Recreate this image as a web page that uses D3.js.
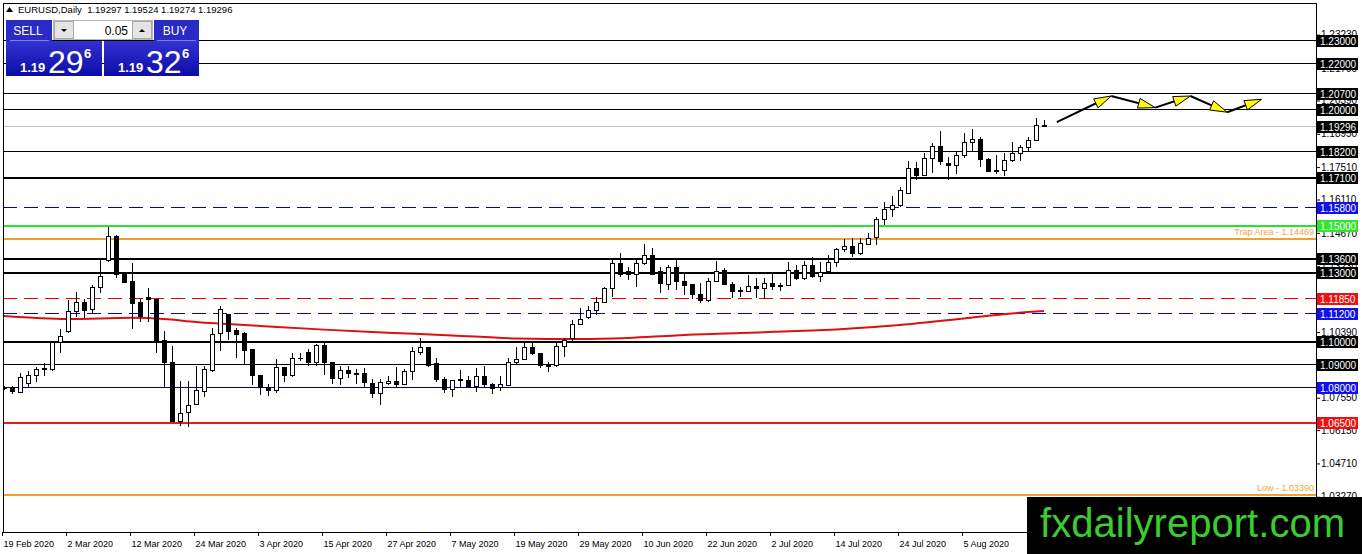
<!DOCTYPE html>
<html>
<head>
<meta charset="utf-8">
<script src="https://cdn.jsdelivr.net/npm/d3@7"></script>
<style>
body { margin: 0; background: #fff; }
text { font-family: "Liberation Sans", Arial, sans-serif; }
</style>
</head>
<body>
<script>
// daily bars, 19 Feb 2020 .. 19 Aug 2020 (one per trading day)
var open = [1.0797,1.0798,1.0778,1.0817,1.0849,1.0879,1.0876,1.0994,1.1043,1.1127,
1.1167,1.1134,1.1230,1.1347,1.1453,1.1289,1.1259,1.1167,1.1188,1.1180,
1.1001,1.0908,1.0654,1.0690,1.0726,1.0781,1.0874,1.1031,1.1115,1.1044,
1.1033,1.0961,1.0853,1.0800,1.0788,1.0886,1.0853,1.0926,1.0949,1.0908,
1.0980,1.0908,1.0836,1.0872,1.0856,1.0858,1.0817,1.0774,1.0817,1.0827,
1.0813,1.0870,1.0949,1.0971,1.0903,1.0834,1.0792,1.0828,1.0831,1.0803,
1.0846,1.0814,1.0798,1.0807,1.0908,1.0921,1.0972,1.0947,1.0892,1.0892,
1.0975,1.1010,1.1072,1.1102,1.1131,1.1165,1.1227,1.1335,1.1300,1.1288,
1.1335,1.1368,1.1299,1.1245,1.1317,1.1256,1.1242,1.1201,1.1173,1.1256,
1.1306,1.1245,1.1215,1.1213,1.1237,1.1227,1.1249,1.1237,1.1239,1.1306,
1.1271,1.1325,1.1278,1.1299,1.1340,1.1396,1.1410,1.1378,1.1417,1.1446,
1.1523,1.1570,1.1587,1.1638,1.1746,1.1713,1.1789,1.1842,1.1767,1.1760,
1.1799,1.1858,1.1871,1.1784,1.1738,1.1735,1.1779,1.1810,1.1836,1.1864,
1.19297];
var high = [1.0804,1.0805,1.0860,1.0870,1.0889,1.0903,1.1001,1.1050,1.1177,1.1210,
1.1183,1.1242,1.1354,1.1494,1.1458,1.1299,1.1335,1.1180,1.1230,1.1180,
1.1043,1.0980,1.0827,1.0827,1.0893,1.0893,1.1054,1.1150,1.1115,1.1054,
1.1040,1.0961,1.0853,1.0814,1.0920,1.0889,1.0949,1.0949,1.0966,1.0987,
1.0992,1.0908,1.0894,1.0891,1.0879,1.0882,1.0834,1.0834,1.0848,1.0886,
1.0877,1.0972,1.1014,1.0971,1.0925,1.0846,1.0831,1.0875,1.0849,1.0885,
1.0892,1.0820,1.0849,1.0928,1.0972,1.1001,1.0993,1.0947,1.0911,1.0990,
1.1014,1.1091,1.1141,1.1151,1.1191,1.1234,1.1354,1.1378,1.1321,1.1357,
1.1417,1.1400,1.1321,1.1328,1.1350,1.1295,1.1242,1.1249,1.1271,1.1345,
1.1317,1.1256,1.1234,1.1285,1.1271,1.1273,1.1295,1.1252,1.1343,1.1328,
1.1345,1.1364,1.1340,1.1371,1.1403,1.1439,1.1443,1.1446,1.1468,1.1537,
1.1602,1.1626,1.1666,1.1777,1.1774,1.1810,1.1854,1.1908,1.1796,1.1818,
1.1900,1.1914,1.1879,1.1789,1.1803,1.1813,1.1861,1.1846,1.1879,1.1962,
1.19524];
var low = [1.0790,1.0772,1.0778,1.0803,1.0824,1.0850,1.0872,1.0946,1.1033,1.1102,
1.1098,1.1115,1.1209,1.1340,1.1270,1.1249,1.1050,1.1080,1.1080,1.0949,
1.0795,1.0651,1.0634,1.0630,1.0726,1.0759,1.0864,1.0956,1.1004,1.0925,
1.0896,1.0810,1.0767,1.0762,1.0776,1.0824,1.0843,1.0915,1.0894,1.0894,
1.0855,1.0814,1.0809,1.0840,1.0814,1.0800,1.0752,1.0723,1.0810,1.0802,
1.0813,1.0833,1.0939,1.0889,1.0824,1.0777,1.0759,1.0803,1.0795,1.0781,
1.0803,1.0771,1.0785,1.0807,1.0896,1.0921,1.0939,1.0882,1.0868,1.0889,
1.0929,1.0990,1.1069,1.1095,1.1112,1.1162,1.1191,1.1278,1.1263,1.1235,
1.1330,1.1285,1.1206,1.1220,1.1220,1.1199,1.1180,1.1162,1.1167,1.1256,
1.1242,1.1187,1.1191,1.1213,1.1187,1.1181,1.1220,1.1216,1.1239,1.1263,
1.1263,1.1271,1.1253,1.1292,1.1321,1.1386,1.1364,1.1371,1.1414,1.1414,
1.1501,1.1537,1.1580,1.1638,1.1695,1.1713,1.1727,1.1760,1.1695,1.1720,
1.1789,1.1818,1.1750,1.1731,1.1720,1.1713,1.1774,1.1779,1.1818,1.1864,
1.19274];
var close = [1.0799,1.0780,1.0843,1.0849,1.0877,1.0881,1.0994,1.1018,1.1127,1.1167,
1.1131,1.1230,1.1278,1.1451,1.1288,1.1253,1.1162,1.1105,1.1177,1.1001,
1.0906,1.0654,1.0687,1.0722,1.0784,1.0877,1.1029,1.1138,1.1040,1.1030,
1.0958,1.0853,1.0800,1.0788,1.0886,1.0850,1.0923,1.0924,1.0908,1.0980,
1.0908,1.0836,1.0872,1.0858,1.0858,1.0819,1.0774,1.0820,1.0827,1.0810,
1.0870,1.0953,1.0972,1.0896,1.0834,1.0791,1.0831,1.0834,1.0803,1.0846,
1.0810,1.0795,1.0813,1.0908,1.0918,1.0972,1.0947,1.0893,1.0894,1.0978,
1.1000,1.1072,1.1093,1.1131,1.1167,1.1227,1.1335,1.1288,1.1288,1.1335,
1.1368,1.1288,1.1249,1.1317,1.1256,1.1239,1.1199,1.1173,1.1256,1.1299,
1.1242,1.1213,1.1216,1.1237,1.1227,1.1249,1.1235,1.1238,1.1306,1.1271,
1.1325,1.1278,1.1296,1.1340,1.1396,1.1410,1.1378,1.1422,1.1443,1.1523,
1.1566,1.1587,1.1652,1.1746,1.1713,1.1789,1.1842,1.1774,1.1760,1.1799,
1.1858,1.1871,1.1784,1.1731,1.1731,1.1779,1.1810,1.1836,1.1868,1.1929,
1.19296];

// moving average (bar index, value)
var maBars = [0, 8, 16, 20, 24, 32, 40, 48, 56, 64, 72, 78, 84, 92, 100, 104, 112, 120, 126, 130];
var maValues = [1.1108,1.1095,1.1100,1.1095,1.1082,1.1065,1.1049,1.1036,1.1024,1.1011,
                1.1008,1.1013,1.1024,1.1034,1.1044,1.1050,1.1069,1.1097,1.1119,1.1129];

// date labels every 8 bars
var dateLabels = ["19 Feb 2020","2 Mar 2020","12 Mar 2020","24 Mar 2020","3 Apr 2020","15 Apr 2020",
  "27 Apr 2020","7 May 2020","19 May 2020","29 May 2020","10 Jun 2020","22 Jun 2020",
  "2 Jul 2020","14 Jul 2020","24 Jul 2020","5 Aug 2020"];

// price scale ticks
var priceTicks = [1.23230,1.21790,1.20390,1.18950,1.17510,1.16110,1.14670,1.13230,
  1.11830,1.10390,1.08950,1.07550,1.06150,1.04710,1.03270];

// horizontal levels
var levels = [1.23000,1.22000,1.20700,1.20000,1.19296,1.18200,1.17100,1.15800,1.15000,
  1.14469,1.13600,1.13000,1.11850,1.11200,1.10000,1.09000,1.08000,1.06500,1.03390];

// projected path (bar index, price)
var pathBars = [131.6, 138.4, 143.9, 148.3, 152.9, 157.2];
var pathPrices = [1.1945, 1.2058, 1.2008, 1.2058, 1.1988, 1.2044];

var title = "EURUSD,Daily  1.19297 1.19524 1.19274 1.19296";
var bidParts = ["1.19", "29", "6"];
var askParts = ["1.19", "32", "6"];
var lotText = "0.05";

// style for each level
var levelStyle = {
  "1.23000": {c: "#000", w: 1, box: "#000"},
  "1.22000": {c: "#000", w: 1, box: "#000"},
  "1.20700": {c: "#000", w: 1, box: "#000"},
  "1.20000": {c: "#000", w: 1, box: "#000"},
  "1.19296": {c: "#c0c0c0", w: 1, box: "#000"},
  "1.18200": {c: "#000", w: 1, box: "#000"},
  "1.17100": {c: "#000", w: 2, box: "#000"},
  "1.15800": {c: "#0000c8", w: 1, box: "#1010e8", dash: "14,7"},
  "1.15000": {c: "#2ee02e", w: 2, box: "#2ee62e"},
  "1.14469": {c: "#f0a030", w: 2, label: "Trap Area - 1.14469"},
  "1.13600": {c: "#000", w: 2, box: "#000"},
  "1.13000": {c: "#000", w: 2, box: "#000"},
  "1.11850": {c: "#e00000", w: 1, box: "#f01010", dash: "14,7"},
  "1.11200": {c: "#0000c8", w: 1, box: "#1010e8", dash: "14,7"},
  "1.10000": {c: "#000", w: 2, box: "#000"},
  "1.09000": {c: "#000", w: 1, box: "#000"},
  "1.08000": {c: "#0000a8", w: 1, box: "#1010e8"},
  "1.06500": {c: "#e02020", w: 2, box: "#f01010"},
  "1.03390": {c: "#f0a030", w: 2, label: "Low - 1.03390"}
};

var fmt = d3.format(".5f");
var plotLeft = 3, plotTop = 3, plotRight = 1316, plotBottom = 532;

var svg = d3.select("body").append("svg")
    .attr("width", 1362)
    .attr("height", 554);

svg.append("rect").attr("width", 1362).attr("height", 554).attr("fill", "#fff");

var x = d3.scaleLinear().domain([0, 130]).range([4, 1044]);
var y = d3.scaleLinear().domain([1.0339, 1.23]).range([494, 40]);

var defs = svg.append("defs");
defs.append("clipPath").attr("id", "plot")
  .append("rect").attr("x", plotLeft).attr("y", plotTop)
  .attr("width", plotRight - plotLeft).attr("height", plotBottom - plotTop);

var plot = svg.append("g").attr("clip-path", "url(#plot)");

// level lines
plot.selectAll("line.level")
  .data(levels)
  .enter()
  .append("line")
  .attr("class", "level")
  .attr("x1", plotLeft).attr("x2", plotRight)
  .attr("y1", function(d) { return Math.round(y(d)) + 0.5; })
  .attr("y2", function(d) { return Math.round(y(d)) + 0.5; })
  .attr("stroke", function(d) { return levelStyle[fmt(d)].c; })
  .attr("stroke-width", function(d) { return levelStyle[fmt(d)].w; })
  .attr("stroke-dasharray", function(d) { return levelStyle[fmt(d)].dash || null; })
  .attr("shape-rendering", "crispEdges");

// orange level captions
plot.selectAll("text.cap")
  .data(levels.filter(function(d) { return levelStyle[fmt(d)].label; }))
  .enter()
  .append("text")
  .attr("class", "cap")
  .attr("x", plotRight - 2)
  .attr("y", function(d) { return y(d) - 3; })
  .attr("text-anchor", "end")
  .attr("font-size", 9)
  .attr("fill", "#f2a63a")
  .text(function(d) { return levelStyle[fmt(d)].label; });

// moving average
var maLine = d3.line()
  .x(function(d, i) { return x(maBars[i]); })
  .y(function(d) { return y(d); })
  .curve(d3.curveMonotoneX);

plot.append("path")
  .attr("d", maLine(maValues))
  .attr("fill", "none")
  .attr("stroke", "#dd1010")
  .attr("stroke-width", 2);

// candles
var bars = d3.range(open.length);
var candle = plot.selectAll("g.candle")
  .data(bars)
  .enter()
  .append("g")
  .attr("class", "candle")
  .attr("shape-rendering", "crispEdges");

candle.append("line")
  .attr("x1", function(i) { return x(i) + 0.5; })
  .attr("x2", function(i) { return x(i) + 0.5; })
  .attr("y1", function(i) { return y(high[i]); })
  .attr("y2", function(i) { return y(low[i]); })
  .attr("stroke", "#000");

candle.append("rect")
  .attr("x", function(i) { return x(i) - 1.5; })
  .attr("width", 4)
  .attr("y", function(i) { return y(Math.max(open[i], close[i])); })
  .attr("height", function(i) { return Math.max(0.5, Math.abs(y(open[i]) - y(close[i]))); })
  .attr("fill", function(i) { return close[i] >= open[i] ? "#fff" : "#000"; })
  .attr("stroke", "#000");

// projected zig-zag with arrow heads
var pts = pathBars.map(function(b, i) { return [x(b), y(pathPrices[i])]; });
var arrows = plot.append("g");
for (var i = 0; i < pts.length - 1; i++) {
  var p0 = pts[i], p1 = pts[i + 1];
  var dx = p1[0] - p0[0], dy = p1[1] - p0[1];
  var len = Math.sqrt(dx * dx + dy * dy);
  var ux = dx / len, uy = dy / len;
  arrows.append("line")
    .attr("x1", p0[0]).attr("y1", p0[1])
    .attr("x2", p1[0] - ux * 4).attr("y2", p1[1] - uy * 4)
    .attr("stroke", "#000").attr("stroke-width", 2);
  var bx = p1[0] - ux * 17, by = p1[1] - uy * 17;
  arrows.append("path")
    .attr("d", d3.line()([[p1[0], p1[1]], [bx - uy * 5, by + ux * 5], [bx + uy * 5, by - ux * 5]]) + "Z")
    .attr("fill", "#ffff00")
    .attr("stroke", "#000")
    .attr("stroke-width", 1);
}

// frame
svg.append("rect")
  .attr("x", plotLeft + 0.5).attr("y", plotTop + 0.5)
  .attr("width", plotRight - plotLeft).attr("height", plotBottom - plotTop)
  .attr("fill", "none").attr("stroke", "#000")
  .attr("shape-rendering", "crispEdges");

// price axis
var yAxis = d3.axisRight(y)
  .tickValues(priceTicks)
  .tickFormat(fmt)
  .tickSize(4)
  .tickPadding(1);

svg.append("g")
  .attr("transform", "translate(" + plotRight + ",0)")
  .call(yAxis)
  .call(function(g) { g.select(".domain").remove(); })
  .attr("font-family", "Liberation Sans, Arial, sans-serif")
  .attr("font-size", 10);

// level tags on the price axis
var tags = svg.selectAll("g.tag")
  .data(levels.filter(function(d) { return levelStyle[fmt(d)].box; }))
  .enter()
  .append("g")
  .attr("class", "tag");

tags.append("rect")
  .attr("x", plotRight + 1)
  .attr("y", function(d) { return Math.round(y(d)) - 5; })
  .attr("width", 41)
  .attr("height", 12)
  .attr("fill", function(d) { return levelStyle[fmt(d)].box; });

tags.append("text")
  .attr("x", plotRight + 4)
  .attr("y", function(d) { return Math.round(y(d)) + 5; })
  .attr("font-size", 10)
  .attr("fill", "#fff")
  .text(function(d) { return fmt(d); });

// time axis
var xAxis = d3.axisBottom(x)
  .tickValues(d3.range(0, dateLabels.length * 8, 8))
  .tickFormat(function(d, i) { return dateLabels[i]; })
  .tickSize(4);

svg.append("g")
  .attr("transform", "translate(-2," + plotBottom + ")")
  .call(xAxis)
  .call(function(g) { g.select(".domain").remove(); })
  .call(function(g) {
    g.selectAll("text").attr("text-anchor", "start").attr("x", 1).attr("dy", "0.9em");
  })
  .attr("font-family", "Liberation Sans, Arial, sans-serif")
  .attr("font-size", 9);

// title
svg.append("path").attr("d", "M6,12 L9.5,7 L13,12 Z").attr("fill", "#000");
svg.append("text")
  .attr("x", 18).attr("y", 13)
  .attr("font-size", 9.5)
  .attr("xml:space", "preserve")
  .text(title);

// one-click trading panel
var grad = defs.append("linearGradient").attr("id", "blue").attr("x1", 0).attr("y1", 0).attr("x2", 0).attr("y2", 1);
grad.append("stop").attr("offset", "0%").attr("stop-color", "#3232d2");
grad.append("stop").attr("offset", "100%").attr("stop-color", "#0c0ca6");

var panel = svg.append("g");
panel.append("rect").attr("x", 6).attr("y", 41).attr("width", 96).attr("height", 35).attr("fill", "url(#blue)");
panel.append("rect").attr("x", 104).attr("y", 41).attr("width", 95).attr("height", 35).attr("fill", "url(#blue)");
panel.append("rect").attr("x", 6).attr("y", 20).attr("width", 46).attr("height", 21).attr("fill", "#2a2ac6");
panel.append("rect").attr("x", 154).attr("y", 20).attr("width", 45).attr("height", 21).attr("fill", "#2a2ac6");
panel.append("line").attr("x1", 10).attr("x2", 49).attr("y1", 40.5).attr("y2", 40.5).attr("stroke", "#7d7df0");
panel.append("line").attr("x1", 157).attr("x2", 196).attr("y1", 40.5).attr("y2", 40.5).attr("stroke", "#7d7df0");
panel.append("rect").attr("x", 53.5).attr("y", 20.5).attr("width", 99).attr("height", 19).attr("fill", "#fff").attr("stroke", "#b8b8b8");
panel.append("rect").attr("x", 54.5).attr("y", 21.5).attr("width", 19).attr("height", 17).attr("fill", "#e4e4e4").attr("stroke", "#a8a8a8");
panel.append("rect").attr("x", 132.5).attr("y", 21.5).attr("width", 19).attr("height", 17).attr("fill", "#e4e4e4").attr("stroke", "#a8a8a8");
panel.append("path").attr("d", "M61,29 L67,29 L64,32 Z").attr("fill", "#000");
panel.append("path").attr("d", "M139,32 L145,32 L142,29 Z").attr("fill", "#000");
panel.append("text").attr("x", 128).attr("y", 35).attr("text-anchor", "end").attr("font-size", 12).text(lotText);
panel.append("text").attr("x", 28).attr("y", 35).attr("text-anchor", "middle").attr("font-size", 12).attr("fill", "#fff").text("SELL");
panel.append("text").attr("x", 175).attr("y", 35).attr("text-anchor", "middle").attr("font-size", 12).attr("fill", "#fff").text("BUY");

[[bidParts, 20], [askParts, 118]].forEach(function(q) {
  var parts = q[0], x0 = q[1];
  panel.append("text").attr("x", x0).attr("y", 72).attr("font-size", 13).attr("font-weight", "bold")
    .attr("fill", "#fff").text(parts[0]);
  panel.append("text").attr("x", x0 + 28).attr("y", 73).attr("font-size", 32)
    .attr("fill", "#fff").text(parts[1]);
  panel.append("text").attr("x", x0 + 64).attr("y", 58).attr("font-size", 13).attr("font-weight", "bold")
    .attr("fill", "#fff").text(parts[2]);
});

// watermark
svg.append("rect").attr("x", 1027).attr("y", 497).attr("width", 335).attr("height", 57).attr("fill", "#000");
svg.append("text")
  .attr("x", 1040).attr("y", 537)
  .attr("font-size", 40)
  .attr("textLength", 305)
  .attr("fill", "#3bcc2f")
  .text("fxdailyreport.com");
</script>
</body>
</html>
